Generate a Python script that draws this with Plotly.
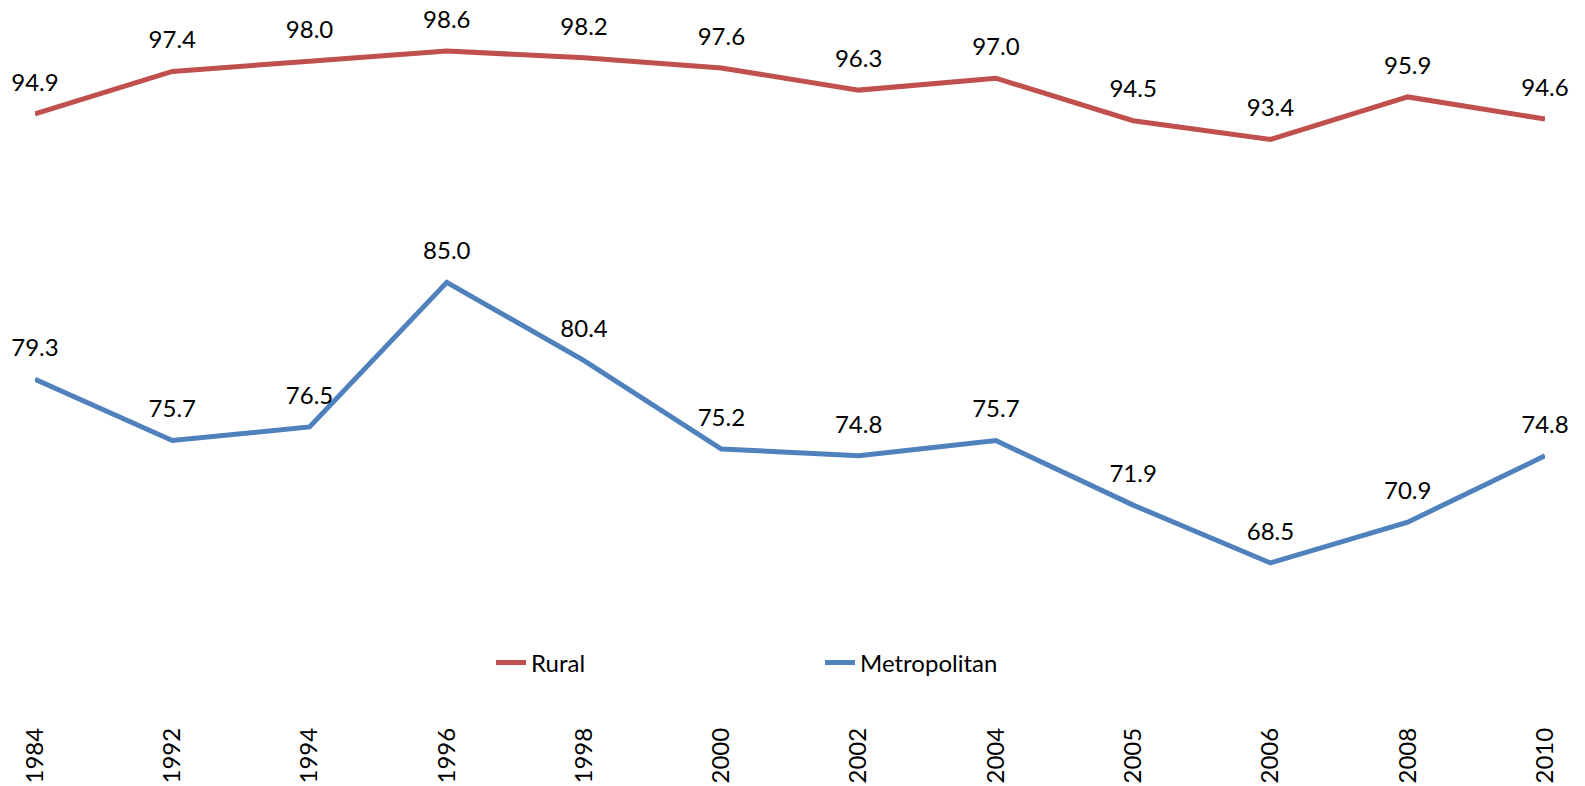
import plotly.graph_objects as go

years = ["1984", "1992", "1994", "1996", "1998", "2000", "2002", "2004", "2005", "2006", "2008", "2010"]
rural = [94.9, 97.4, 98.0, 98.6, 98.2, 97.6, 96.3, 97.0, 94.5, 93.4, 95.9, 94.6]
metro = [79.3, 75.7, 76.5, 85.0, 80.4, 75.2, 74.8, 75.7, 71.9, 68.5, 70.9, 74.8]

FONT = "Lato, 'Open Sans', sans-serif"

fig = go.Figure()
for name, vals, col in [("Rural", rural, "#C0504D"), ("Metropolitan", metro, "#4F81BD")]:
    fig.add_trace(go.Scatter(
        x=years, y=vals, name=name,
        mode="lines+markers+text",
        line=dict(color=col, width=5),
        marker=dict(size=26, color="rgba(0,0,0,0)"),
        text=[f"{v:.1f}" for v in vals],
        textposition="top center",
        textfont=dict(family=FONT, size=24, color="#000000"),
        cliponaxis=False,
        hoverinfo="x+y+name",
    ))

# the page body adds an 8px margin, so the figure margins are trimmed to match
fig.update_layout(
    width=1585, height=786,
    margin=dict(l=27, r=48, t=2, b=72),
    paper_bgcolor="white", plot_bgcolor="white",
    font=dict(family=FONT, size=24, color="#000000"),
    showlegend=True,
    legend=dict(orientation="h", x=0.302, y=0.083, xanchor="left", yanchor="middle",
                entrywidth=284, font=dict(size=24), bgcolor="rgba(0,0,0,0)"),
    xaxis=dict(type="category", range=[0, 11], showgrid=False, zeroline=False,
               showline=False, ticks="", tickangle=-90, tickfont=dict(size=24),
               automargin=False),
    yaxis=dict(range=[59.15, 101.01], visible=False, automargin=False),
)

fig.write_html("out.html")
